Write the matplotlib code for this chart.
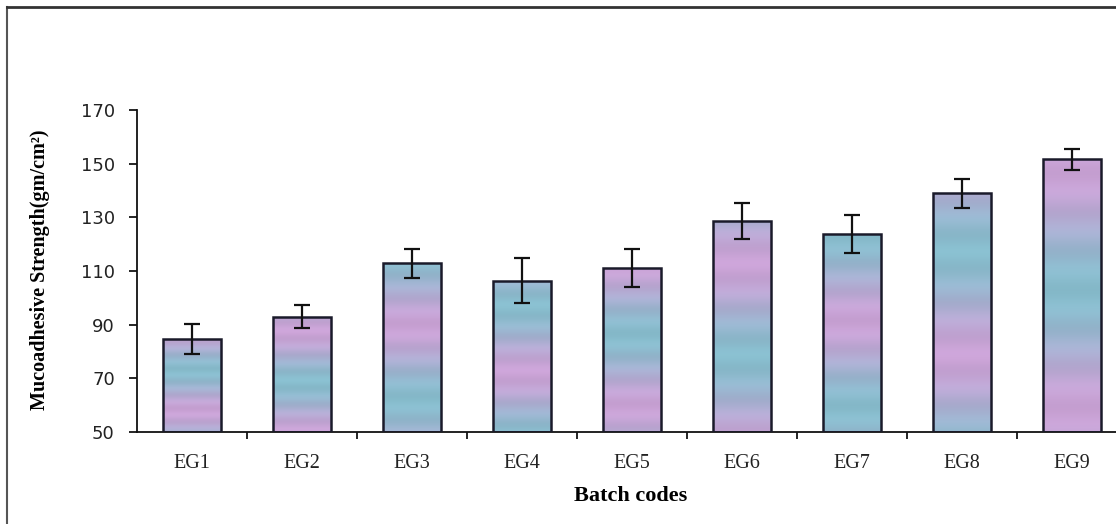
import numpy as np
import matplotlib
matplotlib.use('Agg')
import matplotlib.pyplot as plt
from matplotlib.lines import Line2D

# Data
batches = ['EG1', 'EG2', 'EG3', 'EG4', 'EG5', 'EG6', 'EG7', 'EG8', 'EG9']
strength = [84.5, 93.0, 112.9, 106.4, 111.1, 128.8, 123.8, 139.0, 151.6]
sd = [5.6, 4.3, 5.4, 8.4, 7.2, 6.7, 7.1, 5.4, 4.0]
y_ticks = [50, 70, 90, 110, 130, 150, 170]

fig = plt.figure(figsize=(11.16, 5.24), dpi=100)
fig.patch.set_facecolor('white')
# plot area runs past the right edge, as in the cropped original
ax = fig.add_axes([137 / 1116, 92 / 524, 990 / 1116, 322 / 524])

x = np.arange(len(batches))
bars = ax.bar(x, [v - 50 for v in strength], bottom=50, width=0.53,
              facecolor='none', edgecolor='#1a1a2a', linewidth=1.8, zorder=3)
ax.errorbar(x, strength, yerr=sd, fmt='none', ecolor='#111111',
            elinewidth=1.6, capsize=6, capthick=1.6, zorder=4)

# pastel striped fill like the scanned bars
pink = np.array([0.84, 0.64, 0.86])
lav = np.array([0.70, 0.71, 0.86])
cyan = np.array([0.48, 0.78, 0.81])
rows = np.arange(80)[:, None]
for i, b in enumerate(bars):
    t1 = 0.5 + 0.5 * np.sin(rows * 0.09 + i * 1.7)
    t2 = 0.5 + 0.5 * np.sin(rows * 0.55 + i * 0.9)
    col = lav + (pink - lav) * t1 * 0.8 + (cyan - lav) * (1 - t1) * 0.7
    col = col * (0.95 + 0.05 * t2)
    img = np.clip(col, 0, 1)[:, None, :]
    x0 = b.get_x()
    im = ax.imshow(img, extent=(x0, x0 + b.get_width(), 50, 50 + b.get_height()),
                   aspect='auto', origin='lower', zorder=2, interpolation='bilinear')
    im.set_clip_path(b)

ax.set_xlim(-0.5, 8.5)
ax.set_ylim(50, 170)
ax.set_yticks(y_ticks)
ax.set_yticklabels([str(v) for v in y_ticks], fontfamily='DejaVu Sans', fontsize=13,
                   color='#222222')
ax.set_xticks(x)
ax.set_xticklabels(batches, fontfamily='Liberation Serif', fontsize=14.5, color='#222222')
ax.set_xticks(x + 0.5, minor=True)
ax.tick_params(axis='x', which='major', length=0, pad=16)
ax.tick_params(axis='x', which='minor', length=5, width=1.2, direction='out')
ax.tick_params(axis='y', length=6, width=1.2, direction='out', pad=10)

for s in ['top', 'right']:
    ax.spines[s].set_visible(False)
for s in ['left', 'bottom']:
    ax.spines[s].set_linewidth(1.3)
    ax.spines[s].set_color('#111111')

fig.text(40 / 1116, 1 - 270 / 524, 'Mucoadhesive Strength(gm/cm²)', rotation=90,
         ha='center', va='center', fontfamily='Liberation Serif',
         fontweight='bold', fontsize=14.5)
fig.text(631 / 1116, 1 - 496 / 524, 'Batch codes', ha='center', va='center',
         fontfamily='Liberation Serif', fontweight='bold', fontsize=16)

# frame of the scanned figure
fig.add_artist(Line2D([7 / 1116, 7 / 1116], [0, 1 - 7 / 524], color='#555555', lw=1.5))
fig.add_artist(Line2D([7 / 1116, 1], [1 - 7 / 524, 1 - 7 / 524], color='#333333', lw=2))

fig.savefig('out.png', dpi=100)
